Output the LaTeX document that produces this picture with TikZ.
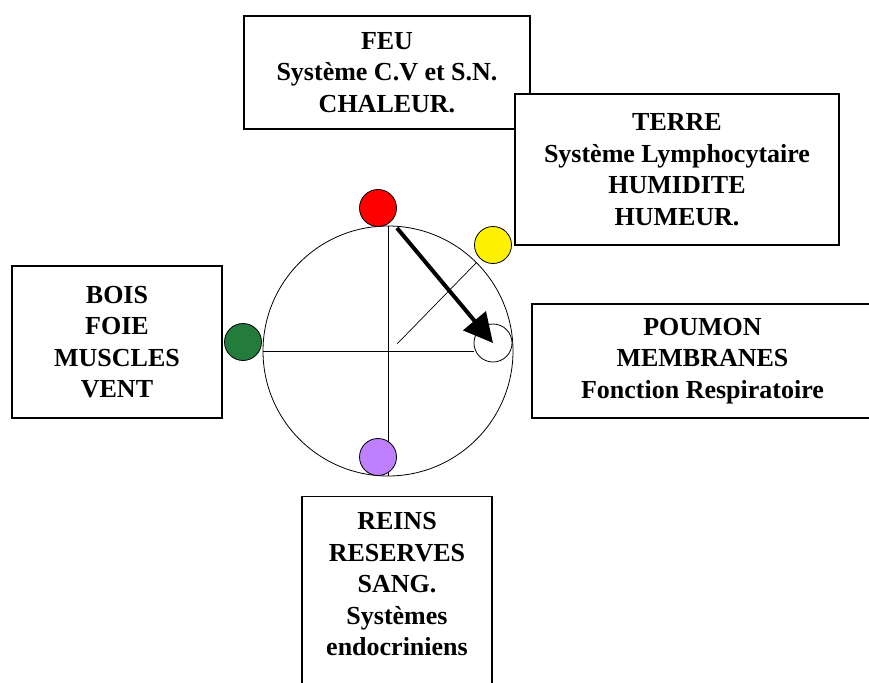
\documentclass[tikz,border=0pt]{standalone}
\usepackage{fontspec}
\setmainfont{Liberation Serif}
\usetikzlibrary{arrows.meta}
\definecolor{leaf}{RGB}{35,123,60}
\definecolor{lilac}{RGB}{190,128,255}

\begin{document}
\begin{tikzpicture}[
		x=1pt, y=-1pt,
		every node/.style={font=\bfseries\fontsize{26}{31.5}\selectfont, align=center},
		box/.style={draw, line width=1.2pt, fill=white, inner sep=0},
		dot/.style={circle, draw, line width=0.8pt, minimum size=37pt, inner sep=0},
	]
	\clip (0,0) rectangle (869,682);
	% boxes
	\node[box, minimum width=286pt, minimum height=113pt] (feu) at (387,72.5) {FEU\\Système C.V et S.N.\\CHALEUR.};
	\node[box, minimum width=324pt, minimum height=151pt] (terre) at (677,169.5) {TERRE\\Système Lymphocytaire\\HUMIDITE\\HUMEUR.};
	\node[box, minimum width=210pt, minimum height=152pt] (bois) at (117,342) {BOIS\\FOIE\\MUSCLES\\VENT};
	\node[box, minimum width=341pt, minimum height=114pt] (poumon) at (702.5,361) {POUMON\\MEMBRANES\\Fonction Respiratoire};
	\node[box, anchor=north, minimum width=190pt, inner ysep=16pt, text depth=200pt] (reins) at (397,496) {REINS\\RESERVES\\SANG.\\Systèmes\\endocriniens};
	% wheel
	\node[circle, draw, line width=0.8pt, minimum size=250pt, inner sep=0, outer sep=0] (wheel) at (388,351) {};
	\node[circle, draw, line width=0.8pt, minimum size=38pt, inner sep=0] (lung) at (493,343) {};
	\coordinate (hub) at (397,344);
	\coordinate (start) at (397,228);
	\draw[line width=1pt] (wheel.north) -- (wheel.south);
	\draw[line width=1pt] (wheel.west) -- (wheel.west -| lung.west);
	\draw[line width=0.7pt] (hub) -- (wheel.45);
	\node[dot, fill=red] (feudot) at (378,208) {};
	\node[dot, fill=yellow] (terredot) at (493,245) {};
	\node[dot, fill=leaf] (boisdot) at (243,342) {};
	\node[dot, fill=lilac] (reinsdot) at (378,457) {};
	\draw[-{Triangle[length=29pt,width=29pt]}, line width=4pt] (start) -- (lung.center);
\end{tikzpicture}
\end{document}
